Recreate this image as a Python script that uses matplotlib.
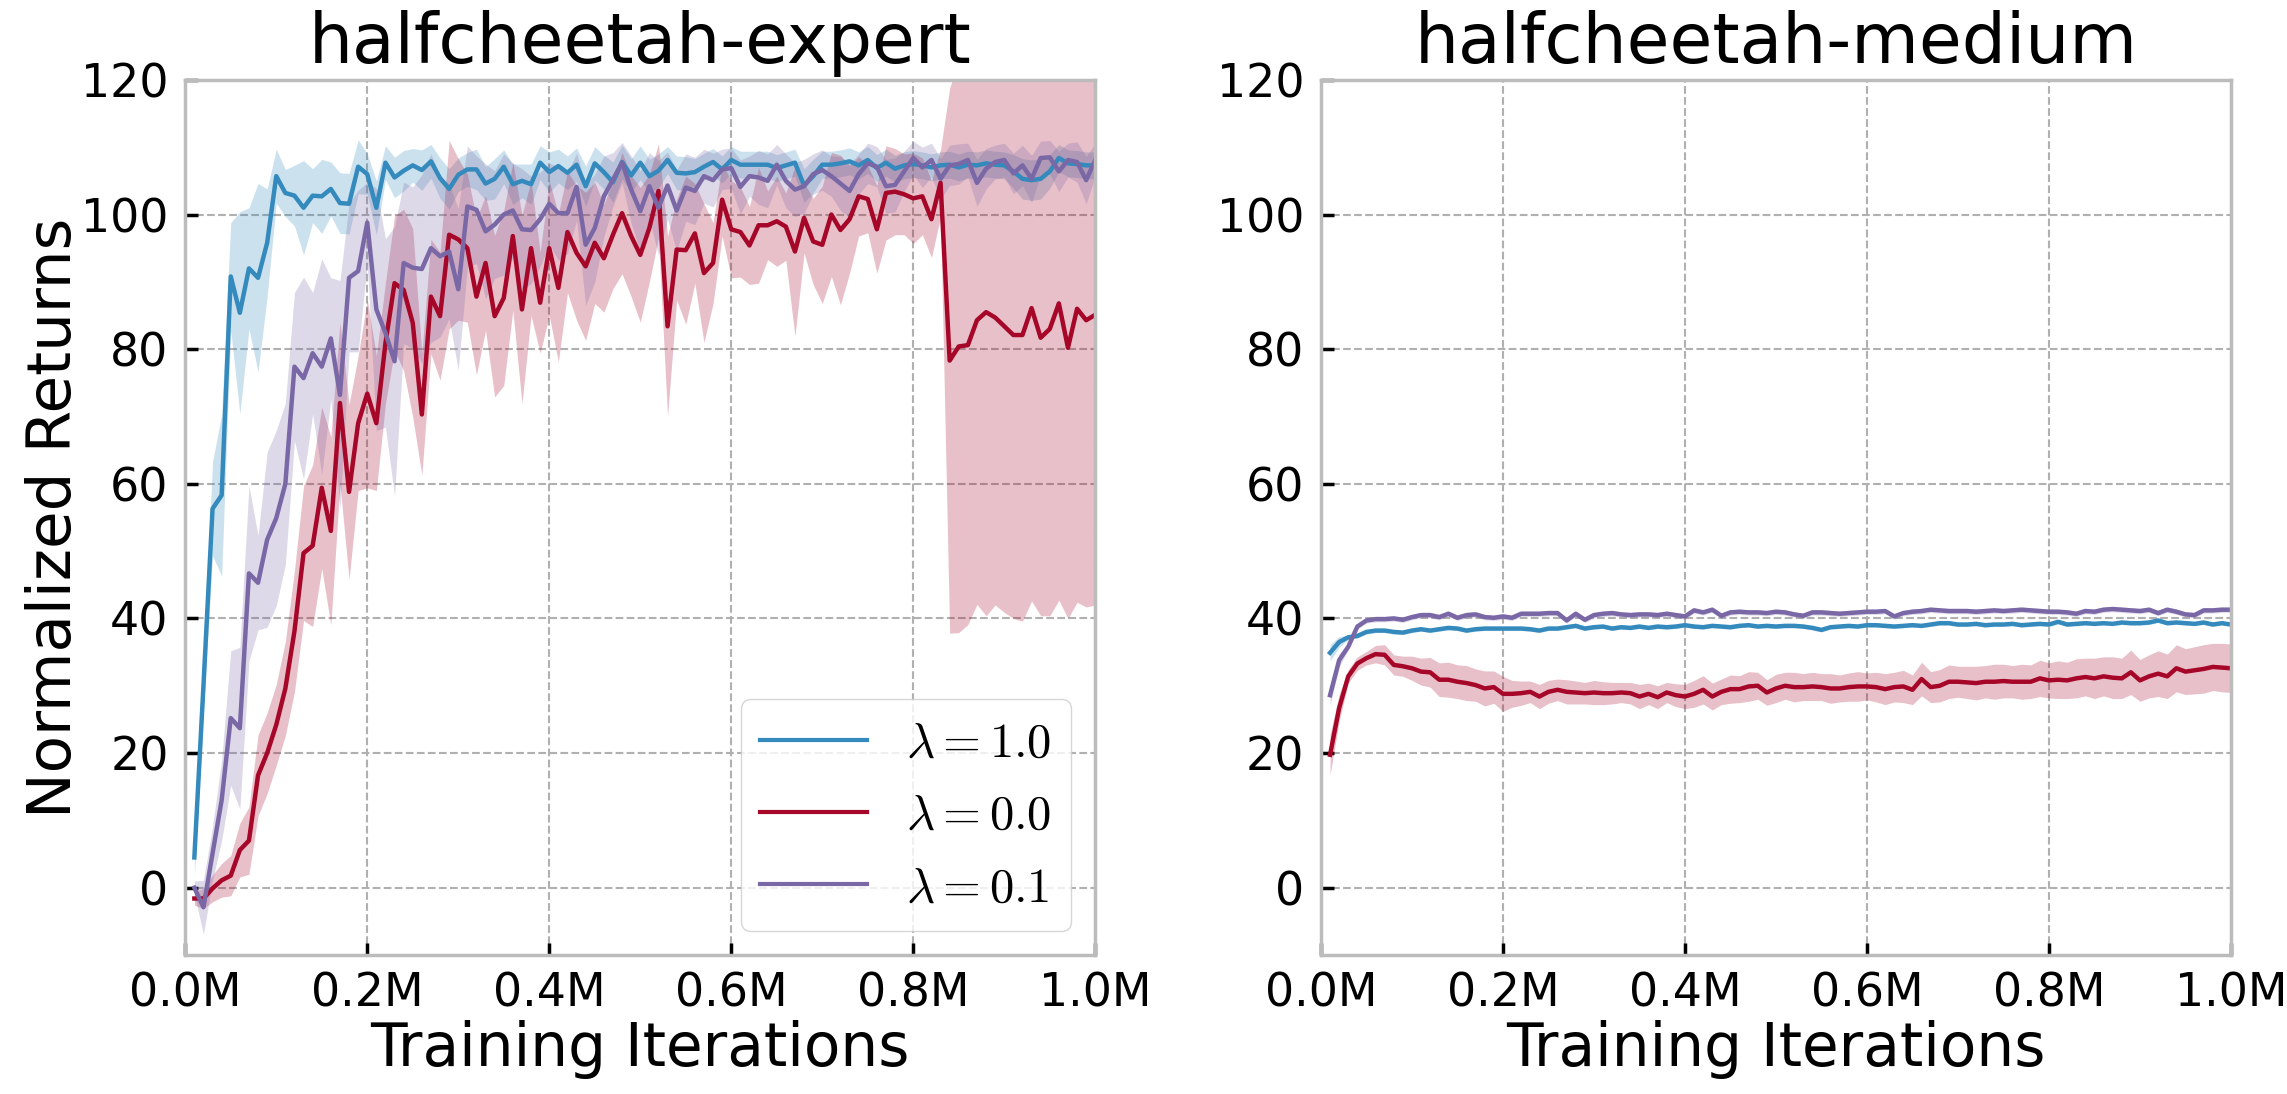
import numpy as np
import matplotlib
matplotlib.use("Agg")
import matplotlib.pyplot as plt
from matplotlib.ticker import FuncFormatter

plt.rcParams['mathtext.fontset'] = 'cm'

steps = np.arange(10_000, 1_000_001, 10_000)
labels = [r'$\lambda=1.0$', r'$\lambda=0.0$', r'$\lambda=0.1$']
colors = ['#348ABD', '#A60628', '#7A68A6']
titles = ['halfcheetah-expert', 'halfcheetah-medium']

# ---- halfcheetah-expert ----
exp_l10 = [4.5, 30, 56.3, 58.3, 90.8, 85.4, 92, 90.6, 95.8, 105.7,
           103.2, 102.8, 101, 102.8, 102.7, 103.8, 101.7, 101.6, 107.1, 106,
           101, 107.7, 105.5, 106.5, 107.3, 106.6, 107.9, 105.4, 103.8, 105.9,
           106.7, 106.7, 104.6, 105.3, 107.1, 104.5, 105, 104.5, 107.7, 106.3,
           107.2, 106.2, 107.4, 104.2, 107.6, 106.3, 104.8, 107.8, 105.8, 107.7,
           105.7, 106.5, 108.1, 106.2, 106.1, 106.3, 107.1, 107.8, 106.7, 108.1,
           107.4, 107.4, 107.4, 107.4, 106.9, 107.3, 107.7, 104.3, 105.7, 107.4,
           107.4, 107.6, 107.9, 107.3, 108.1, 106.9, 107.7, 106.8, 107.3, 107.5,
           107.3, 107, 107.3, 107.4, 107, 107.4, 107.3, 107.6, 107.4, 107.3,
           106.4, 105.3, 105.1, 105.3, 106.4, 108.4, 107.6, 107.5, 107.3, 107.3]
exp_l10_sd = [3, 4, 7, 12, 8, 15, 9, 14, 8, 4,
              3.5, 4.5, 7, 4, 5.5, 4, 4.5, 4.5, 4, 3,
              4, 2.5, 3, 3, 2.5, 3, 2.5, 3, 3, 2.5,
              2.5, 3, 2.5, 3, 2.5, 3, 2.5, 3, 2.5, 3,
              2.5, 2.5, 2.5, 3, 2.5, 2.5, 3, 2.5, 2.5, 2.5,
              2.5, 2.5, 2, 2.5, 2.5, 2, 2, 2, 2, 2,
              2, 2, 2, 2, 2, 2, 2, 2.5, 2.5, 2,
              2, 2, 2, 2, 2, 2, 2, 2, 2, 2,
              2, 2, 2, 2, 2, 2, 2, 2, 2, 2,
              2.5, 3, 3, 3, 2.5, 2, 2, 2, 2, 2]
exp_l00 = [-1.6, -1.6, -0.1, 1.1, 1.8, 5.6, 7, 16.7, 20, 24.2,
           29.6, 38.1, 49.7, 50.8, 59.4, 53, 72, 58.8, 69, 73.4,
           69, 80.9, 89.8, 88.8, 83.9, 70.3, 87.8, 84.9, 97, 96.3,
           95, 87.8, 92.8, 84.9, 87.6, 96.8, 85.9, 95, 86.9, 95,
           89.1, 97.4, 94.3, 92.3, 95.8, 93.5, 97, 100.2, 96.8, 94,
           98, 103.5, 83.4, 94.8, 94.7, 97.2, 91.3, 92.8, 102.2, 97.8,
           97.4, 95.4, 98.4, 98.4, 99, 98.2, 94.5, 99.5, 96, 95.5,
           100, 97.7, 99.3, 102.7, 102.3, 97.8, 103.2, 103.4, 103, 102.4,
           102.7, 99.3, 104.7, 78.3, 80.4, 80.6, 84.3, 85.5, 84.7, 83.4,
           82.1, 82.1, 86.1, 81.7, 83, 86.8, 80.2, 86, 84.3, 85.1]
exp_l00_sd = [1, 1.5, 2, 2.5, 3, 4, 5, 6, 6, 6,
              7, 9, 10, 12, 12, 14, 12, 13, 10, 14,
              10, 9, 10, 12, 14, 9, 8.5, 9.5, 14, 12,
              11, 11.6, 10, 12, 13, 11, 14, 10, 7.5, 10,
              11, 9, 10, 11, 9, 8, 8, 9, 9, 10,
              8, 7, 13.4, 7.5, 11, 7.4, 10.3, 6, 5.4, 7.2,
              6.7, 5.8, 8.6, 5.1, 6.7, 5, 12.6, 5.2, 6.4, 8.7,
              9.2, 11.1, 8, 5.9, 5, 6.5, 7, 6.4, 6, 6.7,
              5.7, 5.7, 5, 40.5, 42.5, 41.5, 42.2, 45.1, 42.7, 42.5,
              42.1, 42.5, 43.5, 41.3, 42.6, 44.1, 40.2, 43.6, 42.6, 43.1]
exp_l01 = [0, -2.9, 5.1, 13, 25.2, 23.7, 46.7, 45.3, 51.7, 54.9,
           60, 77.4, 75.7, 79.4, 77.4, 81.6, 73.2, 90.6, 91.6, 98.8,
           85.9, 82.4, 78.2, 92.8, 92.1, 91.9, 95, 93.8, 94.5, 88.9,
           101.2, 100.7, 97.5, 98.5, 100, 100.6, 97.8, 97.7, 99.3, 101.6,
           100.2, 100.2, 104.1, 95.5, 98, 102.7, 105.2, 107.7, 103.7, 100.5,
           104.2, 101, 104.3, 100.6, 104, 103.5, 105.7, 105.1, 106.7, 106.9,
           104.1, 105.7, 105.5, 105, 107.4, 105, 103.7, 104.2, 106, 106.6,
           105.7, 104.6, 103.5, 106, 107.6, 107.1, 104.2, 104.4, 106.4, 108.4,
           107, 108.1, 105.3, 107.3, 107.5, 108.1, 104.7, 106.8, 107.8, 108.1,
           106.1, 107.3, 105.3, 108.4, 108.5, 106.4, 108.1, 107.8, 105.1, 108.1]
exp_l01_sd = [1, 4, 4, 6, 10, 12, 13, 7, 13, 13,
              12, 11, 15, 9, 16, 9, 17, 11, 12, 6,
              18, 14, 20, 12, 12, 14, 14, 12, 10, 12,
              9, 8, 10, 8, 9, 7, 9, 8, 7, 6,
              7, 6, 5, 9, 8, 6, 4, 3, 5, 6,
              5, 7, 5, 6, 5, 5, 4, 4, 3, 3,
              4, 3, 4, 4, 3, 4, 4, 4, 3, 3,
              3, 4, 4, 3, 3, 3, 4, 4, 3, 2.5,
              3, 2.5, 3, 3, 3, 2.5, 3.5, 3, 2.5, 2.5,
              3, 3, 3.5, 2.5, 2.5, 3, 2.5, 3, 3.5, 2.5]

# ---- halfcheetah-medium ----
med_l10 = [34.9, 36.5, 37.2, 37.4, 38, 38.2, 38.2, 38, 37.9, 38.2,
           38.4, 38.2, 38.4, 38.6, 38.5, 38.2, 38.4, 38.5, 38.5, 38.5,
           38.5, 38.5, 38.4, 38.2, 38.5, 38.5, 38.7, 38.9, 38.5, 38.7,
           38.8, 38.5, 38.7, 38.6, 38.8, 38.6, 38.8, 38.7, 38.8, 39,
           38.8, 38.7, 38.9, 38.8, 38.7, 38.9, 39, 38.8, 38.9, 38.8,
           38.9, 38.9, 38.8, 38.6, 38.3, 38.7, 38.8, 38.9, 38.8, 39,
           39, 38.9, 38.8, 38.9, 39, 38.9, 39.1, 39.3, 39.3, 39.1,
           39.1, 39.2, 39, 39.1, 39.1, 39.2, 39, 39.1, 39.2, 39.1,
           39.5, 39.1, 39.2, 39.3, 39.2, 39.3, 39.2, 39.4, 39.3, 39.3,
           39.4, 39.7, 39.3, 39.4, 39.3, 39.2, 39.4, 39.1, 39.3, 39.1]
med_l10_sd = [1.2, 0.8] + [0.3] * 98
med_l00 = [19.75, 26.7, 31.4, 33.3, 34.1, 34.7, 34.6, 33.1, 32.9, 32.6,
           32.1, 32, 30.9, 30.9, 30.6, 30.4, 30.1, 29.6, 29.8, 28.8,
           28.8, 28.9, 29.1, 28.4, 29.1, 29.4, 29.1, 29, 28.9, 29,
           28.9, 28.9, 29, 28.9, 28.4, 28.8, 28.3, 29, 28.6, 28.4,
           28.8, 29.4, 28.4, 29.1, 29.5, 29.5, 29.9, 30, 29, 29.6,
           30, 29.8, 29.8, 29.9, 29.8, 29.6, 29.6, 29.8, 29.9, 29.9,
           29.8, 29.5, 29.8, 29.9, 29.4, 31, 29.8, 30, 30.6, 30.6,
           30.5, 30.4, 30.6, 30.6, 30.7, 30.6, 30.6, 30.6, 31.1, 30.8,
           30.9, 30.8, 31.1, 31.3, 31.1, 31.4, 31.2, 31.1, 32, 30.8,
           31.4, 31.8, 31.4, 32.6, 32.1, 32.3, 32.5, 32.8, 32.7, 32.6]
med_l00_sd = [3, 2, 1, 1, 1, 1.3, 1.5, 1.5, 1.5, 1.8,
              2, 2.2, 2.5, 2.6, 2.5, 2.6, 2.4, 2.6, 2.4, 2.6,
              2, 1.8, 1.6, 1.8, 1.7, 1.6, 1.8, 1.7, 1.6, 1.8,
              1.7, 1.6, 1.5, 1.6, 1.8, 1.6, 1.7, 1.5, 1.7, 1.8,
              2, 2.1, 2, 1.9, 2.1, 2, 2.2, 2, 1.9, 2.1,
              2, 2.2, 2, 2.1, 2, 2.2, 2, 2.1, 2.2, 2,
              2.2, 2.3, 2.2, 2.4, 2.2, 2.5, 2.3, 2.4, 2.5, 2.3,
              2.4, 2.5, 2.4, 2.6, 2.5, 2.4, 2.6, 2.5, 2.7, 2.6,
              2.8, 2.7, 2.9, 2.8, 3, 2.9, 3.1, 3, 3.3, 3.1,
              3.2, 3.4, 3.3, 3.5, 3.4, 3.5, 3.6, 3.5, 3.6, 3.6]
med_l01 = [28.6, 33.8, 35.8, 38.8, 39.7, 39.9, 39.9, 40, 39.8, 40.2,
           40.5, 40.5, 40.2, 40.7, 40.1, 40.5, 40.6, 40.2, 40.1, 40.3,
           40.1, 40.7, 40.7, 40.7, 40.8, 40.8, 39.7, 40.7, 39.8, 40.5,
           40.7, 40.8, 40.6, 40.5, 40.6, 40.6, 40.5, 40.7, 40.5, 40.3,
           41.2, 40.9, 41.3, 40.4, 40.9, 41, 40.9, 40.9, 40.8, 41,
           40.9, 40.6, 40.4, 40.9, 40.9, 40.8, 40.7, 40.8, 40.9, 41,
           41, 41.1, 40.3, 40.8, 41, 41.1, 41.3, 41.2, 41.1, 41.1,
           41.1, 41, 41.1, 41.2, 41.1, 41.2, 41.3, 41.2, 41.1, 41,
           41, 40.9, 40.7, 41.1, 41, 41.3, 41.4, 41.3, 41.2, 41.1,
           41.3, 40.8, 41.3, 41, 40.6, 40.5, 41.2, 41.2, 41.3, 41.3]
med_l01_sd = [1.5, 1] + [0.4] * 98

panels = [
    ([exp_l10, exp_l00, exp_l01], [exp_l10_sd, exp_l00_sd, exp_l01_sd]),
    ([med_l10, med_l00, med_l01], [med_l10_sd, med_l00_sd, med_l01_sd]),
]

fig, axes = plt.subplots(1, 2, figsize=(22.87, 10.94), dpi=100)
fig.subplots_adjust(left=0.081, right=0.9755, bottom=0.127, top=0.927, wspace=0.248)

for ax, title, (means, sds) in zip(axes, titles, panels):
    for m, s, c, lab in zip(means, sds, colors, labels):
        m = np.array(m); s = np.array(s)
        ax.fill_between(steps, m - s, m + s, color=c, alpha=0.25, lw=0)
        ax.plot(steps, m, color=c, lw=3.2, label=lab)
    ax.set_xlim(0, 1_000_000)
    ax.set_ylim(-10, 120)
    ax.set_xticks([0, 200_000, 400_000, 600_000, 800_000, 1_000_000])
    ax.set_yticks([0, 20, 40, 60, 80, 100, 120])
    ax.xaxis.set_major_formatter(FuncFormatter(lambda v, p: f"{v/1e6:.1f}M"))
    ax.grid(True, ls='--', color='#b0b0b0', lw=1.5)
    ax.set_axisbelow(True)
    for sp in ax.spines.values():
        sp.set_color('#bcbcbc'); sp.set_linewidth(2.5)
    ax.tick_params(direction='in', length=9, width=2.5, labelsize=33, pad=12,
                   top=False, right=False)
    ax.set_title(title, fontsize=50, pad=12)
    ax.set_xlabel('Training Iterations', fontsize=43, labelpad=2)

axes[0].set_ylabel('Normalized Returns', fontsize=44, labelpad=-2)
leg = axes[0].legend(loc='lower right', fontsize=35, fancybox=True, framealpha=0.8,
                     edgecolor='#cccccc', handlelength=2.2)
for line in leg.get_lines():
    line.set_linewidth(3)

fig.savefig('out.png', dpi=100)
